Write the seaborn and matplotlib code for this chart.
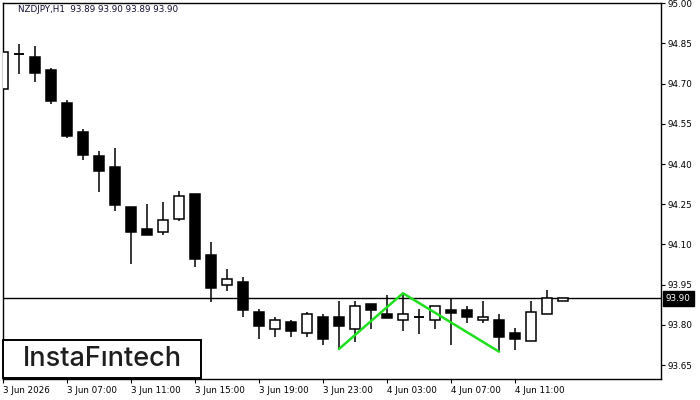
import matplotlib
matplotlib.use("Agg")
import matplotlib.pyplot as plt
from matplotlib.patches import Rectangle
import seaborn as sns
import numpy as np
import pandas as pd

# NZDJPY H1 candles
opens = [94.679, 94.809, 94.798, 94.751, 94.628, 94.519, 94.430, 94.389, 94.240, 94.157,
         94.147, 94.196, 94.288, 94.060, 93.947, 93.960, 93.848, 93.785, 93.810, 93.768,
         93.828, 93.828, 93.785, 93.878, 93.841, 93.817, 93.828, 93.817, 93.857, 93.857,
         93.817, 93.817, 93.768, 93.738, 93.839, 93.888]
highs = [94.829, 94.848, 94.840, 94.757, 94.638, 94.531, 94.449, 94.460, 94.240, 94.251,
         94.258, 94.299, 94.288, 94.109, 94.008, 93.978, 93.859, 93.829, 93.818, 93.847,
         93.840, 93.889, 93.889, 93.878, 93.911, 93.918, 93.858, 93.869, 93.899, 93.870,
         93.889, 93.839, 93.787, 93.888, 93.930, 93.900]
lows = [94.679, 94.736, 94.707, 94.625, 94.498, 94.416, 94.297, 94.226, 94.028, 94.136,
        94.136, 94.188, 94.017, 93.886, 93.927, 93.828, 93.748, 93.756, 93.756, 93.756,
        93.726, 93.710, 93.737, 93.785, 93.826, 93.778, 93.767, 93.785, 93.726, 93.808,
        93.808, 93.700, 93.707, 93.738, 93.839, 93.888]
closes = [94.817, 94.809, 94.738, 94.636, 94.506, 94.435, 94.375, 94.248, 94.147, 94.136,
          94.190, 94.279, 94.047, 93.938, 93.970, 93.856, 93.797, 93.817, 93.778, 93.839,
          93.748, 93.797, 93.869, 93.856, 93.826, 93.839, 93.828, 93.869, 93.845, 93.828,
          93.828, 93.756, 93.748, 93.847, 93.899, 93.900]

x_tick_labels = ["3 Jun 2026", "3 Jun 07:00", "3 Jun 11:00", "3 Jun 15:00", "3 Jun 19:00",
                 "3 Jun 23:00", "4 Jun 03:00", "4 Jun 07:00", "4 Jun 11:00"]
y_ticks = [93.65, 93.80, 93.95, 94.10, 94.25, 94.40, 94.55, 94.70, 94.85, 95.00]

# double bottom pattern: low, neck, low
pattern_idx = [21, 25, 31]
pattern_price = [93.710, 93.918, 93.700]

title_text = "NZDJPY,H1  93.89 93.90 93.89 93.90"

df = pd.DataFrame({"open": opens, "high": highs, "low": lows, "close": closes})
df["idx"] = np.arange(len(df))

sns.set_theme(style="white")
plt.rcParams["font.family"] = ["DejaVu Sans"]

fig = plt.figure(figsize=(7, 4), dpi=100)
ax = fig.add_axes([3 / 700, 21 / 400, 658 / 700, 376 / 400])

body_w = 0.62
up = df["close"] >= df["open"]

ax.vlines(df["idx"], df["low"], df["high"], color="black", linewidth=1.1, zorder=2)
body_h = (df["close"] - df["open"]).abs().clip(lower=0.0015)
body_bottom = df[["open", "close"]].min(axis=1)
ax.bar(df["idx"][up], body_h[up], bottom=body_bottom[up], width=body_w,
       facecolor="white", edgecolor="black", linewidth=1.1, zorder=3)
ax.bar(df["idx"][~up], body_h[~up], bottom=body_bottom[~up], width=body_w,
       facecolor="black", edgecolor="black", linewidth=1.1, zorder=3)

# dojis drawn as a flat line
for i, r in df.iterrows():
    if abs(r["close"] - r["open"]) < 0.002:
        ax.hlines(r["close"], i - body_w / 2, i + body_w / 2, color="black", linewidth=1.1, zorder=4)

ax.axhline(closes[-1], color="black", linewidth=1.0, zorder=1)

sns.lineplot(x=pattern_idx, y=pattern_price, ax=ax, color="#1ee01e", linewidth=1.8,
             sort=False, estimator=None, zorder=5)

ax.set_xlim(0, 41.125)
ax.set_ylim(93.598, 95.001)

ax.yaxis.tick_right()
ax.set_yticks(y_ticks)
ax.set_yticklabels([f"{v:.2f}" for v in y_ticks])
ax.set_xticks(np.arange(0, 33, 4))
ax.set_xticklabels(x_tick_labels, ha="left")
ax.tick_params(axis="both", which="both", length=3, width=0.8, color="black",
               labelsize=6.3, labelcolor="black", direction="out")
ax.tick_params(axis="y", pad=2, right=True, left=False)
ax.tick_params(axis="x", pad=2, bottom=True)
ax.set_xlabel("")
ax.set_ylabel("")
for s in ax.spines.values():
    s.set_color("black")
    s.set_linewidth(1.0)
    s.set_visible(True)
ax.grid(False)

# current price tag
ax.text(1.0 + 5 / 658, closes[-1], f"{closes[-1]:.2f}", transform=ax.get_yaxis_transform(),
        ha="left", va="center", fontsize=6.3, color="white",
        bbox=dict(facecolor="black", edgecolor="black", boxstyle="square,pad=0.35"))

fig.text(18 / 700, 1 - 10 / 400, title_text, fontsize=6.3, color="#101030", va="center", ha="left")

# logo box
fig.add_artist(Rectangle((3 / 700, 22 / 400), 198 / 700, 38 / 400, transform=fig.transFigure,
                         facecolor="white", edgecolor="black", linewidth=1.4, zorder=10))
fig.text(102 / 700, 1 - 359.5 / 400, "InstaF\u0131ntech", fontsize=19.5, color="#1e1e1e",
         family=["Inter", "DejaVu Sans"], weight="medium", ha="center", va="center", zorder=11)

fig.savefig("out.png", dpi=100)
